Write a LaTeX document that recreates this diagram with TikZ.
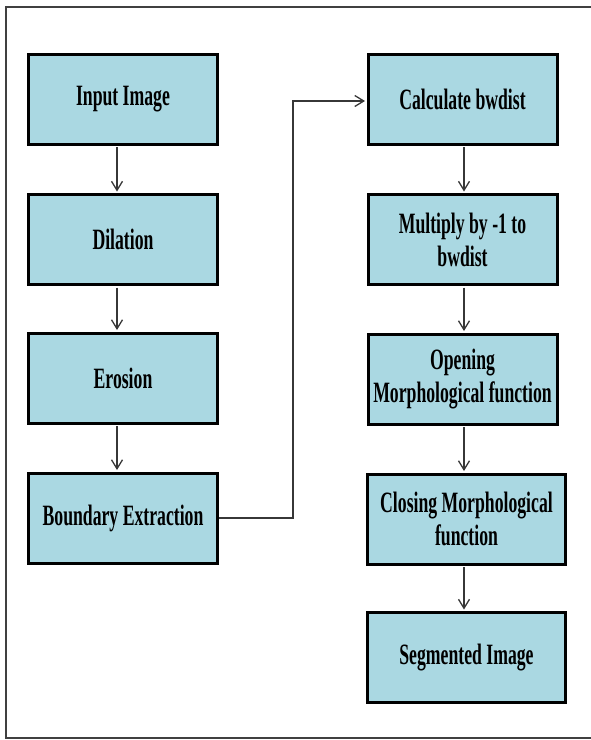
\documentclass[tikz,border=0pt]{standalone}
\usepackage{fontspec}
\setmainfont{Liberation Serif}[FakeStretch=0.6]
\usetikzlibrary{arrows.meta}
\definecolor{boxblue}{RGB}{170,216,226}
\definecolor{linkgray}{RGB}{55,55,55}

\begin{document}
\begin{tikzpicture}[x=1pt,y=-1pt,
  stage/.style={draw=black,line width=3pt,fill=boxblue,minimum width=189pt,
    minimum height=90pt,inner sep=2pt,align=center,
    font=\fontsize{29.5}{33}\selectfont\bfseries},
  widestage/.style={stage,minimum width=198pt},
  link/.style={draw=linkgray,line width=1.3pt,shorten <=1.5pt,shorten >=1.5pt,
    -{Straight Barb[length=9pt,width=11pt]}}]
  \useasboundingbox (0,0) rectangle (591,740);
  \draw [line width=1.8pt,black!75] (610,7) -- (6,7) -- (6,738) -- (610,738);
  % left column
  \node [stage] (input) at (123,99) {Input Image};
  \node [stage] (dilation) at (123,239.5) {Dilation};
  \node [stage] (erosion) at (123,378) {Erosion};
  \node [stage] (boundary) at (123,518) {Boundary Extraction};
  % right column
  \node [stage] (bwdist) at (462.5,99) {Calculate bwdist};
  \node [stage] (multiply) at (462.5,239.5) {Multiply by -1 to\\bwdist};
  \node [stage] (opening) at (462.5,379) {Opening\\Morphological function};
  \node [widestage] (closing) at (466.5,519) {Closing Morphological\\function};
  \node [widestage] (segmented) at (466.5,657.5) {Segmented Image};
  % links
  \foreach \a/\b/\s in {input/dilation/-6pt,dilation/erosion/-6pt,erosion/boundary/-6pt,
      bwdist/multiply/1.5pt,multiply/opening/1.5pt,opening/closing/1.5pt,closing/segmented/-2.5pt}
    \draw [link] ([xshift=\s]\a.south) -- ([xshift=\s]\a.south |- \b.north);
  \draw [link,shorten <=0pt] (boundary.east) -- ++(74,0) |- ([yshift=-2pt]bwdist.west);
\end{tikzpicture}
\end{document}
